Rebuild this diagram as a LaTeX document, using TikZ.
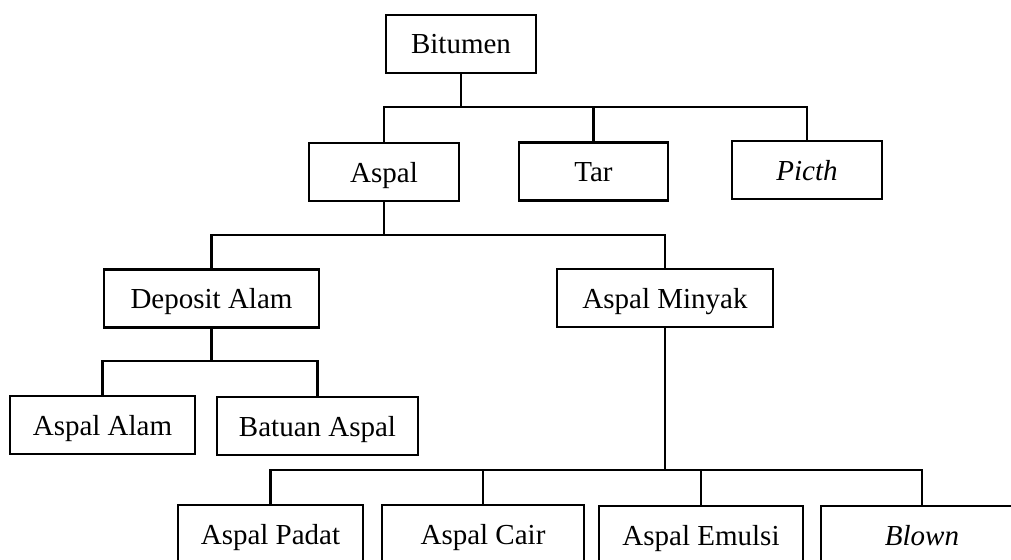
\documentclass[tikz,border=0pt]{standalone}
\usepackage{fontspec}
\setmainfont{Liberation Serif}
\begin{document}
\begin{tikzpicture}[x=1pt,y=-1pt,line width=2.2pt,
  box/.style={draw,minimum height=58pt,inner sep=0pt,text height=20pt,text depth=0pt,font=\fontsize{29}{34}\selectfont}]
\useasboundingbox (0,0) rectangle (1011,559);\clip (0,0) rectangle (1011,559);
\node[box,minimum width=150pt] (bit) at (461,44) {Bitumen};
\node[box,minimum width=150pt] (asp) at (384,172) {Aspal};
\node[box,minimum width=149pt] (tar) at (593.5,171.5) {Tar};
\node[box,minimum width=150pt] (pic) at (807,170) {\textit{Picth}};
\node[box,minimum width=215pt] (dep) at (211.5,298.5) {Deposit Alam};
\node[box,minimum width=216pt] (min) at (665,298) {Aspal Minyak};
\node[box,minimum width=185pt] (alm) at (102.5,425) {Aspal Alam};
\node[box,minimum width=201pt] (bat) at (317.5,426) {Batuan Aspal};
\node[box,minimum width=185pt] (pad) at (270.5,534) {Aspal Padat};
\node[box,minimum width=202pt] (cai) at (483,534) {Aspal Cair};
\node[box,minimum width=204pt] (emu) at (701,535) {Aspal Emulsi};
\node[box,minimum width=202pt] (blo) at (922,535) {\textit{Blown}};
% bus lines
\coordinate (b1) at (461,107);\coordinate (b2) at (384,235);
\coordinate (b3) at (211.5,361);\coordinate (b4) at (665,470);
\draw (bit.south) -- (b1);\draw (asp.north) |- (b1) -| (pic.north);\draw (tar.north) -- (tar.north |- b1);
\draw (asp.south) -- (b2);\draw (dep.north) |- (b2) -| (min.north);
\draw (dep.south) -- (b3);\draw (alm.north) |- (b3) -| (bat.north);
\draw (min.south) -- (b4);\draw (pad.north) |- (b4) -| (blo.north);
\draw (cai.north) -- (cai.north |- b4);\draw (emu.north) -- (emu.north |- b4);
\end{tikzpicture}
\end{document}
